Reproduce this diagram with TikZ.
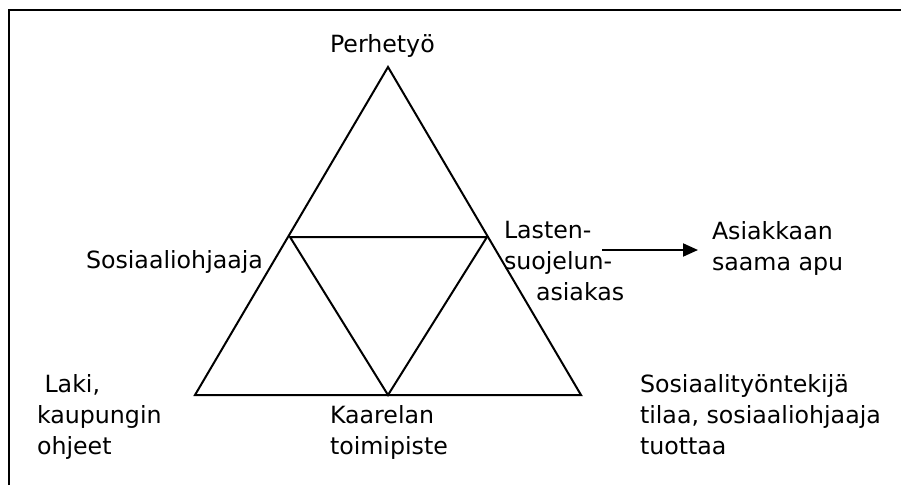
\documentclass[tikz,border=0pt]{standalone}
\usepackage{fontspec}
\setmainfont{DejaVu Sans}
\usetikzlibrary{arrows.meta}
\begin{document}
\begin{tikzpicture}[x=1pt,y=-1pt,
  lbl/.style={inner sep=0pt, outer sep=0pt, align=left,
    font=\fontsize{23.7}{31}\selectfont, anchor=base west},
  edge/.style={line width=2pt, line join=miter},
  frame/.style={line width=2.6pt},
  arr/.style={line width=2pt, -{Triangle[length=15pt,width=13pt]}}]
\useasboundingbox (0,0) rectangle (901,485);

% frame (top and left sides)
\draw[frame] (9,485) -- (9,10) -- (901,10);

% outer triangle corners
\coordinate (top) at (388,67);
\coordinate (bl) at (195,395);
\coordinate (br) at (581,395);
% inner triangle corners
\coordinate (il) at (290,237);
\coordinate (ir) at (487,237);
\coordinate (ib) at (388,395);

\draw[edge] (top) -- (br) -- (bl) -- cycle;
\draw[edge] (il) -- (ir) -- (ib) -- cycle;

% labels (multi-line nodes are anchored at the baseline of their last line)
\node[lbl] (perhe) at (330,52) {Perhetyö};
\node[lbl] (sohj) at (86,268) {Sosiaaliohjaaja};
\node[lbl] (lsa) at (504,300) {Lasten-\\suojelun-\\\hspace*{32pt}asiakas};
\node[lbl] (apu) at (712,270) {Asiakkaan\\saama apu};
\node[lbl] (laki) at (37,454) {\ Laki,\\kaupungin\\ohjeet};
\node[lbl] (kaar) at (330,454) {Kaarelan\\toimipiste};
\node[lbl] (styo) at (640,454) {Sosiaalityöntekijä\\tilaa, sosiaaliohjaaja\\tuottaa};

% arrow towards the outcome
\coordinate (arrS) at (602,250);
\coordinate (arrE) at (698,250);
\draw[arr] (arrS) -- (arrE);
\end{tikzpicture}
\end{document}
